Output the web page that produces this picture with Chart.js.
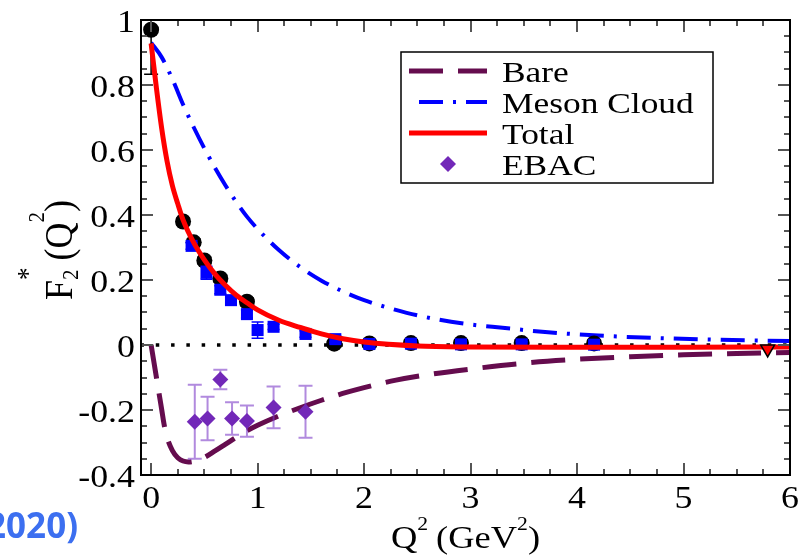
<!DOCTYPE html>
<html><head><meta charset="utf-8">
<script src="https://cdn.jsdelivr.net/npm/chart.js@4.4.0/dist/chart.umd.min.js"></script>
<style>html,body{margin:0;padding:0;background:#fff;overflow:hidden}</style>
</head><body>
<canvas id="c" width="812" height="559" style="width:812px;height:559px;display:block"></canvas>
<script>
// ---------- data ----------
const xTicks = [0, 1, 2, 3, 4, 5, 6];
const yTicks = [-0.4, -0.2, 0, 0.2, 0.4, 0.6, 0.8, 1];

const bareQ2 = [0, 0.05, 0.1, 0.125, 0.15, 0.2, 0.25, 0.3, 0.35, 0.4, 0.5, 0.6, 0.7, 0.8, 0.9, 1.0, 1.2, 1.4, 1.6, 1.8, 2.0, 2.3, 2.6, 3.0, 3.5, 4.0, 4.5, 5.0, 5.5, 6.0];
const bareF2 = [0, -0.1, -0.2, -0.25, -0.285, -0.325, -0.347, -0.357, -0.36, -0.358, -0.346, -0.326, -0.305, -0.284, -0.264, -0.247, -0.218, -0.193, -0.17, -0.149, -0.131, -0.108, -0.091, -0.074, -0.056, -0.044, -0.036, -0.03, -0.026, -0.023];

const mesonQ2 = [0, 0.1, 0.2, 0.3, 0.4, 0.5, 0.6, 0.7, 0.8, 0.9, 1.0, 1.2, 1.4, 1.6, 1.8, 2.0, 2.2, 2.4, 2.7, 3.0, 3.3, 3.7, 4.2, 4.7, 5.2, 6.0];
const mesonF2 = [0.93, 0.885, 0.818, 0.74, 0.67, 0.605, 0.545, 0.49, 0.44, 0.395, 0.357, 0.292, 0.24, 0.198, 0.165, 0.138, 0.117, 0.099, 0.078, 0.063, 0.053, 0.04, 0.029, 0.022, 0.017, 0.012];

const totalQ2 = [0, 0.05, 0.1, 0.15, 0.2, 0.25, 0.3, 0.4, 0.5, 0.6, 0.7, 0.8, 0.9, 1.0, 1.2, 1.4, 1.6, 1.8, 2.0, 2.5, 3.0, 4.0, 5.0, 6.0];
const totalF2 = [0.928, 0.79, 0.665, 0.565, 0.49, 0.435, 0.385, 0.315, 0.262, 0.218, 0.183, 0.153, 0.13, 0.108, 0.076, 0.054, 0.034, 0.019, 0.009, -0.003, -0.006, -0.007, -0.007, -0.006];

const clasQ2 = [0, 0.3, 0.4, 0.5, 0.65, 0.9, 1.72, 2.05, 2.44, 2.91, 3.48, 4.16];
const clasF2 = [0.97, 0.38, 0.316, 0.26, 0.205, 0.133, 0.004, 0.005, 0.006, 0.006, 0.006, 0.005];
const clasErr = [0.137, 0.01, 0.01, 0.01, 0.01, 0.012, 0.01, 0.01, 0.01, 0.01, 0.01, 0.01];

const maidQ2 = [0.38, 0.52, 0.65, 0.75, 0.9, 1.0, 1.15, 1.45, 1.73, 2.05, 2.44, 2.91, 3.48, 4.16];
const maidF2 = [0.305, 0.222, 0.17, 0.138, 0.095, 0.046, 0.056, 0.034, 0.018, 0.003, 0.004, 0.002, 0.002, 0.001];
const maidErr = [0.01, 0.02, 0.012, 0.008, 0.012, 0.025, 0.008, 0.01, 0.01, 0.008, 0.008, 0.008, 0.008, 0.008];

const ebacQ2 = [0.41, 0.53, 0.65, 0.76, 0.9, 1.15, 1.45];
const ebacF2 = [-0.236, -0.226, -0.106, -0.226, -0.234, -0.192, -0.205];
const ebacErr = [0.114, 0.067, 0.03, 0.05, 0.048, 0.064, 0.08];

const pdgQ2 = [5.79];
const pdgF2 = [-0.012];

const zeroQ2 = [-0.1, 6];
const zeroF2 = [0, 0];

const legendLabels = ['Bare', 'Meson Cloud', 'Total', 'EBAC'];

// ---------- helpers ----------
const mk = (xs, ys) => xs.map((x, i) => ({ x: x, y: ys[i] }));
const SERIF = "'Liberation Serif', 'Times New Roman', serif";
Chart.defaults.font.family = SERIF;

function stretchText(ctx, str, x, y, size, sx) {
  ctx.save();
  ctx.font = size + 'px ' + SERIF;
  ctx.translate(x, y);
  ctx.scale(sx, 1);
  ctx.fillText(str, 0, 0);
  ctx.restore();
}

function richWidth(ctx, pieces) {
  let w = 0;
  pieces.forEach(p => { ctx.font = p.size + 'px ' + SERIF; if (!p.stackOn) w += ctx.measureText(p.t).width + (p.gap || 0); });
  return w;
}
function drawRich(ctx, pieces, x0) {
  let x = x0, lastX = x0;
  pieces.forEach(p => {
    ctx.font = p.size + 'px ' + SERIF;
    if (p.stackOn) { ctx.fillText(p.t, lastX, p.dy || 0); return; }
    lastX = x;
    ctx.fillText(p.t, x, p.dy || 0);
    x += ctx.measureText(p.t).width + (p.gap || 0);
  });
}

// ---------- plugins ----------
const errorBars = {
  id: 'errorBars',
  beforeDatasetDraw(chart, args) {
    const ds = chart.data.datasets[args.index];
    if (!ds.errs) return;
    const { ctx, chartArea: a, scales: { y } } = chart;
    ctx.save();
    ctx.beginPath();
    ctx.rect(a.left, a.top, a.right - a.left, a.bottom - a.top);
    ctx.clip();
    ctx.strokeStyle = ds.errColor;
    ctx.lineWidth = ds.errWidth;
    args.meta.data.forEach((el, i) => {
      const v = ds.data[i].y, e = ds.errs[i];
      const pt = y.getPixelForValue(v + e), pb = y.getPixelForValue(v - e);
      const c = ds.errCap;
      ctx.beginPath();
      ctx.moveTo(el.x, pt); ctx.lineTo(el.x, pb);
      ctx.moveTo(el.x - c, pt); ctx.lineTo(el.x + c, pt);
      ctx.moveTo(el.x - c, pb); ctx.lineTo(el.x + c, pb);
      ctx.stroke();
    });
    ctx.restore();
  }
};

const frame = {
  id: 'frame',
  afterDatasetsDraw(chart) {
    const { ctx, chartArea: a, scales: { x, y } } = chart;
    ctx.save();
    ctx.strokeStyle = '#555';
    ctx.lineWidth = 2;
    ctx.beginPath();
    for (let k = 0; k <= 24; k++) {
      const v = k * 0.25, px = Math.round(x.getPixelForValue(v));
      const L = (k % 4 === 0) ? 12 : 6;
      ctx.moveTo(px, a.bottom); ctx.lineTo(px, a.bottom - L);
      ctx.moveTo(px, a.top); ctx.lineTo(px, a.top + L);
    }
    for (let k = 0; k <= 28; k++) {
      const v = -0.4 + k * 0.05, py = Math.round(y.getPixelForValue(v));
      const L = (k % 4 === 0) ? 12 : 6;
      ctx.moveTo(a.left, py); ctx.lineTo(a.left + L, py);
      ctx.moveTo(a.right, py); ctx.lineTo(a.right - L, py);
    }
    ctx.stroke();
    ctx.strokeStyle = '#000';
    ctx.strokeRect(a.left, a.top, a.right - a.left, a.bottom - a.top);
    ctx.restore();
  }
};

const tickLabels = {
  id: 'tickLabels',
  afterDraw(chart) {
    const { ctx, scales: { x, y }, chartArea: a } = chart;
    ctx.save();
    ctx.fillStyle = '#000';
    ctx.textBaseline = 'alphabetic';
    ctx.font = '32px ' + SERIF;
    const sx = 1.12;
    x.ticks.forEach(t => {
      const lab = String(t.value);
      const w = ctx.measureText(lab).width * sx;
      stretchText(ctx, lab, x.getPixelForValue(t.value) - w / 2, a.bottom + 33, 32, sx);
    });
    y.ticks.forEach(t => {
      const lab = String(Math.round(t.value * 10) / 10);
      ctx.font = '32px ' + SERIF;
      const w = ctx.measureText(lab).width * sx;
      stretchText(ctx, lab, a.left - 6 - w, y.getPixelForValue(t.value) + 12, 32, sx);
    });
    ctx.restore();
  }
};

const legendBox = {
  id: 'legendBox',
  afterDraw(chart) {
    const ctx = chart.ctx;
    const dsByLabel = {};
    chart.data.datasets.forEach(d => { dsByLabel[d.label] = d; });
    const bx = 401, by = 52, bw = 312, bh = 131;
    ctx.save();
    ctx.fillStyle = '#fff';
    ctx.fillRect(bx, by, bw, bh);
    ctx.strokeStyle = '#000';
    ctx.lineWidth = 1.5;
    ctx.strokeRect(bx, by, bw, bh);
    legendLabels.forEach((lab, i) => {
      const d = dsByLabel[lab];
      const cy = 71 + i * 31;
      if (d.showLine) {
        ctx.save();
        ctx.strokeStyle = d.borderColor;
        ctx.lineWidth = d.borderWidth;
        ctx.setLineDash(d.borderDash || []);
        ctx.lineDashOffset = d.legendDashOffset || 0;
        ctx.beginPath();
        ctx.moveTo(409, cy); ctx.lineTo(487, cy);
        ctx.stroke();
        ctx.restore();
      } else {
        ctx.fillStyle = d.backgroundColor;
        ctx.beginPath();
        ctx.moveTo(448 - 8, cy); ctx.lineTo(448, cy - 8); ctx.lineTo(448 + 8, cy); ctx.lineTo(448, cy + 8); ctx.closePath();
        ctx.fill();
      }
      ctx.fillStyle = '#000';
      ctx.textBaseline = 'alphabetic';
      ctx.textAlign = 'left';
      stretchText(ctx, lab, 502, cy + 11, 30, 1.18);
    });
    ctx.restore();
  }
};

const titles = {
  id: 'titles',
  afterDraw(chart) {
    const ctx = chart.ctx, a = chart.chartArea;
    ctx.save();
    ctx.fillStyle = '#000';
    ctx.textBaseline = 'alphabetic';
    ctx.textAlign = 'left';
    // x title
    const xp = [
      { t: 'Q', size: 32 }, { t: '2', size: 19, dy: -18, gap: 7 },
      { t: '(GeV', size: 32 }, { t: '2', size: 19, dy: -18 }, { t: ')', size: 32 }
    ];
    const sx = 1.14;
    const wx = richWidth(ctx, xp) * sx;
    ctx.save();
    ctx.translate((a.left + a.right) / 2 - wx / 2, 548);
    ctx.scale(sx, 1);
    drawRich(ctx, xp, 0);
    ctx.restore();
    // y title
    const yp = [
      { t: 'F', size: 36 }, { t: '2', size: 21, dy: 5, gap: 9 }, { t: '*', size: 25, dy: -31, stackOn: true },
      { t: '(Q', size: 36 }, { t: '2', size: 21, dy: -25 }, { t: ')', size: 36 }
    ];
    const wy = richWidth(ctx, yp);
    ctx.save();
    ctx.translate(72, 250);
    ctx.rotate(-Math.PI / 2);
    ctx.scale(1, 1.14);
    drawRich(ctx, yp, -wy / 2);
    ctx.restore();
    // clipped caption fragment
    ctx.font = "bold 35px 'Open Sans', Lato, sans-serif";
    ctx.fillStyle = '#3c6ff0';
    ctx.textAlign = 'right';
    ctx.fillText('(2020)', 78, 538);
    ctx.restore();
  }
};

// ---------- chart ----------
const datasets = [
  { label: 'zero', data: mk(zeroQ2, zeroF2), showLine: true, borderColor: '#000', borderWidth: 3.5, borderDash: [3.5, 11.8], pointRadius: 0, order: 9 },
  { label: 'Bare', data: mk(bareQ2, bareF2), showLine: true, borderColor: '#650c4e', borderWidth: 5, borderDash: [34, 15], pointRadius: 0, cubicInterpolationMode: 'monotone', order: 8 },
  { label: 'Meson Cloud', data: mk(mesonQ2, mesonF2), showLine: true, borderColor: '#0000ff', borderWidth: 4, borderDash: [24, 10, 3, 10], legendDashOffset: 37, pointRadius: 0, cubicInterpolationMode: 'monotone', order: 7 },
  { label: 'CLAS', data: mk(clasQ2, clasF2), errs: clasErr, errColor: '#000', errWidth: 1.5, errCap: 7, showLine: false, pointStyle: 'circle', pointRadius: 8, backgroundColor: '#000', borderColor: '#000', borderWidth: 0, order: 6 },
  { label: 'MAID', data: mk(maidQ2, maidF2), errs: maidErr, errColor: '#0000ff', errWidth: 1.5, errCap: 6, showLine: false, pointStyle: 'rect', pointRadius: 8.5, backgroundColor: '#0000ff', borderColor: '#0000ff', borderWidth: 0, order: 5 },
  { label: 'Total', data: mk(totalQ2, totalF2), showLine: true, borderColor: '#ff0000', borderWidth: 5, pointRadius: 0, cubicInterpolationMode: 'monotone', order: 4 },
  { label: 'PDG', data: mk(pdgQ2, pdgF2), showLine: false, pointStyle: 'triangle', rotation: 180, pointRadius: 8, backgroundColor: '#ff0000', borderColor: '#000', borderWidth: 1.5, order: 3 },
  { label: 'EBAC', data: mk(ebacQ2, ebacF2), errs: ebacErr, errColor: 'rgba(125,60,200,0.6)', errWidth: 2, errCap: 7, showLine: false, pointStyle: 'rectRot', pointRadius: 8, backgroundColor: '#7228b8', borderColor: '#7228b8', borderWidth: 0, order: 2 }
];

new Chart(document.getElementById('c'), {
  type: 'scatter',
  data: { datasets: datasets },
  options: {
    responsive: false,
    animation: false,
    devicePixelRatio: 1,
    events: [],
    layout: { padding: { top: 20, right: 22, left: 0, bottom: 0 } },
    plugins: { legend: { display: false }, tooltip: { enabled: false } },
    scales: {
      x: {
        type: 'linear', min: -0.095, max: 6,
        afterBuildTicks: s => { s.ticks = xTicks.map(v => ({ value: v })); },
        afterFit: s => { s.height = 84; },
        grid: { display: false, drawTicks: false },
        border: { display: false },
        ticks: { display: false }
      },
      y: {
        type: 'linear', min: -0.4, max: 1,
        afterBuildTicks: s => { s.ticks = yTicks.map(v => ({ value: v })); },
        afterFit: s => { s.width = 141; },
        grid: { display: false, drawTicks: false },
        border: { display: false },
        ticks: { display: false }
      }
    }
  },
  plugins: [errorBars, frame, tickLabels, legendBox, titles]
});
</script>
</body></html>
